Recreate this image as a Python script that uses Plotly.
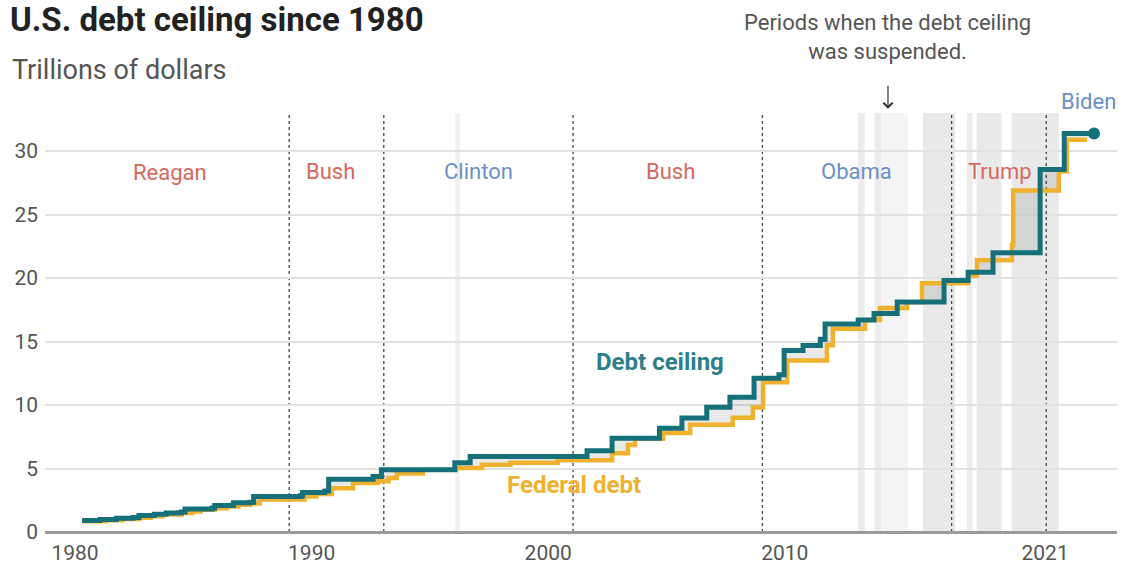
import plotly.graph_objects as go

# ---------------- data ----------------
# Debt ceiling (trillions), step changes: decimal year, value
ceiling_year = [1980.30, 1981.05, 1981.75, 1982.45, 1982.70, 1983.35, 1983.85, 1984.35, 1984.50, 1984.65,
                1985.80, 1985.90, 1986.60, 1986.70, 1987.35, 1987.45, 1987.55, 1989.55, 1989.62, 1990.55,
                1990.62, 1990.72, 1992.60, 1992.95, 1996.05, 1996.70, 2001.64, 2002.70, 2004.70, 2005.65,
                2006.70, 2007.68, 2008.70, 2009.75, 2009.97, 2010.77, 2011.50, 2011.70, 2013.10, 2013.77,
                2014.75, 2016.73, 2017.75, 2018.80, 2020.79, 2021.81, 2023.07]
ceiling_val = [0.90, 0.98, 1.08, 1.14, 1.29, 1.39, 1.49, 1.52, 1.57, 1.82,
               1.90, 2.08, 2.11, 2.30, 2.32, 2.35, 2.80, 2.87, 3.12, 3.20,
               3.23, 4.15, 4.37, 4.90, 5.45, 5.95, 6.40, 7.38, 8.18, 8.97,
               9.82, 10.62, 12.10, 12.39, 14.29, 14.69, 15.19, 16.39, 16.70, 17.21,
               18.11, 19.81, 20.46, 21.99, 28.55, 31.38, 31.38]

# Federal debt (trillions), step changes
debt_year = [1980.30, 1981.30, 1982.00, 1982.70, 1983.20, 1983.70, 1984.50, 1984.95, 1985.30, 1985.90,
             1986.40, 1986.90, 1987.40, 1987.80, 1989.70, 1990.20, 1990.85, 1991.75, 1992.80, 1993.25,
             1993.60, 1994.70, 1996.10, 1997.20, 1998.40, 2000.40, 2002.70, 2003.37, 2003.67, 2004.85,
             2006.00, 2007.80, 2008.65, 2009.08, 2010.10, 2011.78, 2012.03, 2013.39, 2014.02, 2015.16,
             2015.80, 2017.74, 2018.12, 2019.60, 2019.65, 2021.58, 2021.92, 2022.77]
debt_val = [0.85, 0.93, 1.02, 1.12, 1.25, 1.38, 1.50, 1.62, 1.75, 1.88,
            2.00, 2.15, 2.25, 2.55, 2.80, 3.00, 3.45, 3.85, 4.00, 4.25,
            4.60, 4.90, 5.05, 5.30, 5.45, 5.65, 6.20, 6.85, 7.35, 7.80,
            8.45, 9.00, 9.80, 11.80, 13.50, 14.70, 16.00, 16.70, 17.65, 18.10,
            19.60, 20.20, 21.40, 22.60, 26.90, 28.40, 30.90, 30.90]

# Periods when the debt ceiling was suspended (start, end)
susp_start = [1996.07, 2013.09, 2013.79, 2014.12, 2015.84, 2017.69, 2018.11, 2019.59]
susp_end = [1996.27, 2013.38, 2014.10, 2015.20, 2017.20, 2017.94, 2019.16, 2021.58]
susp_shade = ["rgba(0,0,0,0.06)", "rgba(0,0,0,0.075)", "rgba(0,0,0,0.075)", "rgba(0,0,0,0.045)",
              "rgba(0,0,0,0.085)", "rgba(0,0,0,0.075)", "rgba(0,0,0,0.085)", "rgba(0,0,0,0.085)"]

# Presidential terms
term_start = [1989.05, 1993.05, 2001.05, 2009.05, 2017.05, 2021.05]
presidents = ["Reagan", "Bush", "Clinton", "Bush", "Obama", "Trump"]
pres_party = ["R", "R", "D", "R", "D", "R"]
pres_x = [1984.0, 1990.8, 1997.05, 2005.15, 2013.05, 2019.1]
pres_y = [28.3, 28.4, 28.4, 28.4, 28.4, 28.4]
last_president = "Biden"
last_president_x = 2022.85

x_ticks = [1980, 1990, 2000, 2010, 2021]
x_tick_text = ["1980", "1990", "2000", "2010", "2021"]
y_ticks = [0, 5, 10, 15, 20, 25, 30]

TEAL = "#16707a"
GOLD = "#f0b12f"
RED = "#d6695e"
BLUE = "#6b90c8"
FONT = "Roboto"

fig = go.Figure()

# fill anchors
fig.add_trace(go.Scatter(x=debt_year, y=debt_val, mode="lines", line=dict(width=0, shape="hv"),
                         hoverinfo="skip", showlegend=False))
fig.add_trace(go.Scatter(x=ceiling_year, y=ceiling_val, mode="lines", line=dict(width=0, shape="hv"),
                         fill="tonexty", fillcolor="rgba(0,0,0,0.085)", hoverinfo="skip", showlegend=False))
# lines
fig.add_trace(go.Scatter(x=debt_year, y=debt_val, mode="lines", line=dict(width=4.5, color=GOLD, shape="hv"),
                         showlegend=False, name="Federal debt"))
fig.add_trace(go.Scatter(x=ceiling_year, y=ceiling_val, mode="lines", line=dict(width=5, color=TEAL, shape="hv"),
                         showlegend=False, name="Debt ceiling"))
fig.add_trace(go.Scatter(x=[ceiling_year[-1]], y=[ceiling_val[-1]], mode="markers",
                         marker=dict(size=12, color=TEAL), showlegend=False, hoverinfo="skip"))

shapes = []
for s, e, c in zip(susp_start, susp_end, susp_shade):
    shapes.append(dict(type="rect", xref="x", yref="y", x0=s, x1=e, y0=0, y1=33,
                       fillcolor=c, line=dict(width=0), layer="below"))
for t in term_start:
    shapes.append(dict(type="line", xref="x", yref="y", x0=t, x1=t, y0=0, y1=33,
                       line=dict(color="#444", width=1.3, dash="dot"), layer="below"))

annotations = []
for name, party, px, py in zip(presidents, pres_party, pres_x, pres_y):
    annotations.append(dict(x=px, y=py, xref="x", yref="y", text=name, showarrow=False,
                            font=dict(family=FONT, size=22, color=RED if party == "R" else BLUE)))
annotations += [
    dict(x=last_president_x, y=1.0286, xref="x", yref="paper", yanchor="middle", text=last_president,
         showarrow=False, font=dict(family=FONT, size=22, color=BLUE)),
    dict(x=-0.0345, y=1.2243, xref="paper", yref="paper", xanchor="left", yanchor="middle",
         text="<b>U.S. debt ceiling since 1980</b>", showarrow=False,
         font=dict(family=FONT, size=33, color="#222")),
    dict(x=-0.0326, y=1.1026, xref="paper", yref="paper", xanchor="left", yanchor="middle",
         text="Trillions of dollars", showarrow=False,
         font=dict(family=FONT, size=27, color="#555")),
    dict(x=0.786, y=1.181, xref="paper", yref="paper", xanchor="center", yanchor="middle",
         text="Periods when the debt ceiling<br>was suspended.", showarrow=False,
         font=dict(family=FONT, size=22, color="#555")),
    dict(x=2014.36, y=1.01, xref="x", yref="paper", text=" ", showarrow=True, ax=0, ay=-25,
         arrowhead=4, arrowsize=1.5, arrowwidth=1.2, arrowcolor="#333", font=dict(size=1)),
    dict(x=2004.72, y=13.4, xref="x", yref="y", text="<b>Debt ceiling</b>", showarrow=False,
         font=dict(family=FONT, size=24, color="#2f7f88")),
    dict(x=2001.09, y=3.7, xref="x", yref="y", text="<b>Federal debt</b>", showarrow=False,
         font=dict(family=FONT, size=24, color=GOLD)),
]

fig.update_layout(
    width=1122, height=569,
    margin=dict(l=45, r=5, t=113, b=37),
    paper_bgcolor="white", plot_bgcolor="white",
    shapes=shapes, annotations=annotations,
    font=dict(family=FONT, color="#555"),
    xaxis=dict(range=[1978.73, 2024.04], tickvals=x_ticks, ticktext=x_tick_text, showgrid=False,
               zeroline=False, showline=False, ticks="", tickfont=dict(size=21, color="#555"),
               ticklabelstandoff=6, automargin=False),
    yaxis=dict(range=[0, 33], tickvals=y_ticks, showgrid=True, gridcolor="#e2e2e2", gridwidth=1.5,
               zeroline=True, zerolinecolor="#9a9a9a", zerolinewidth=3, showline=False, ticks="",
               tickfont=dict(size=21, color="#555"), ticklabelstandoff=6, automargin=False),
)

fig.write_html("out.html", config={"displayModeBar": False},
               post_script="document.body.style.margin='0px';")
